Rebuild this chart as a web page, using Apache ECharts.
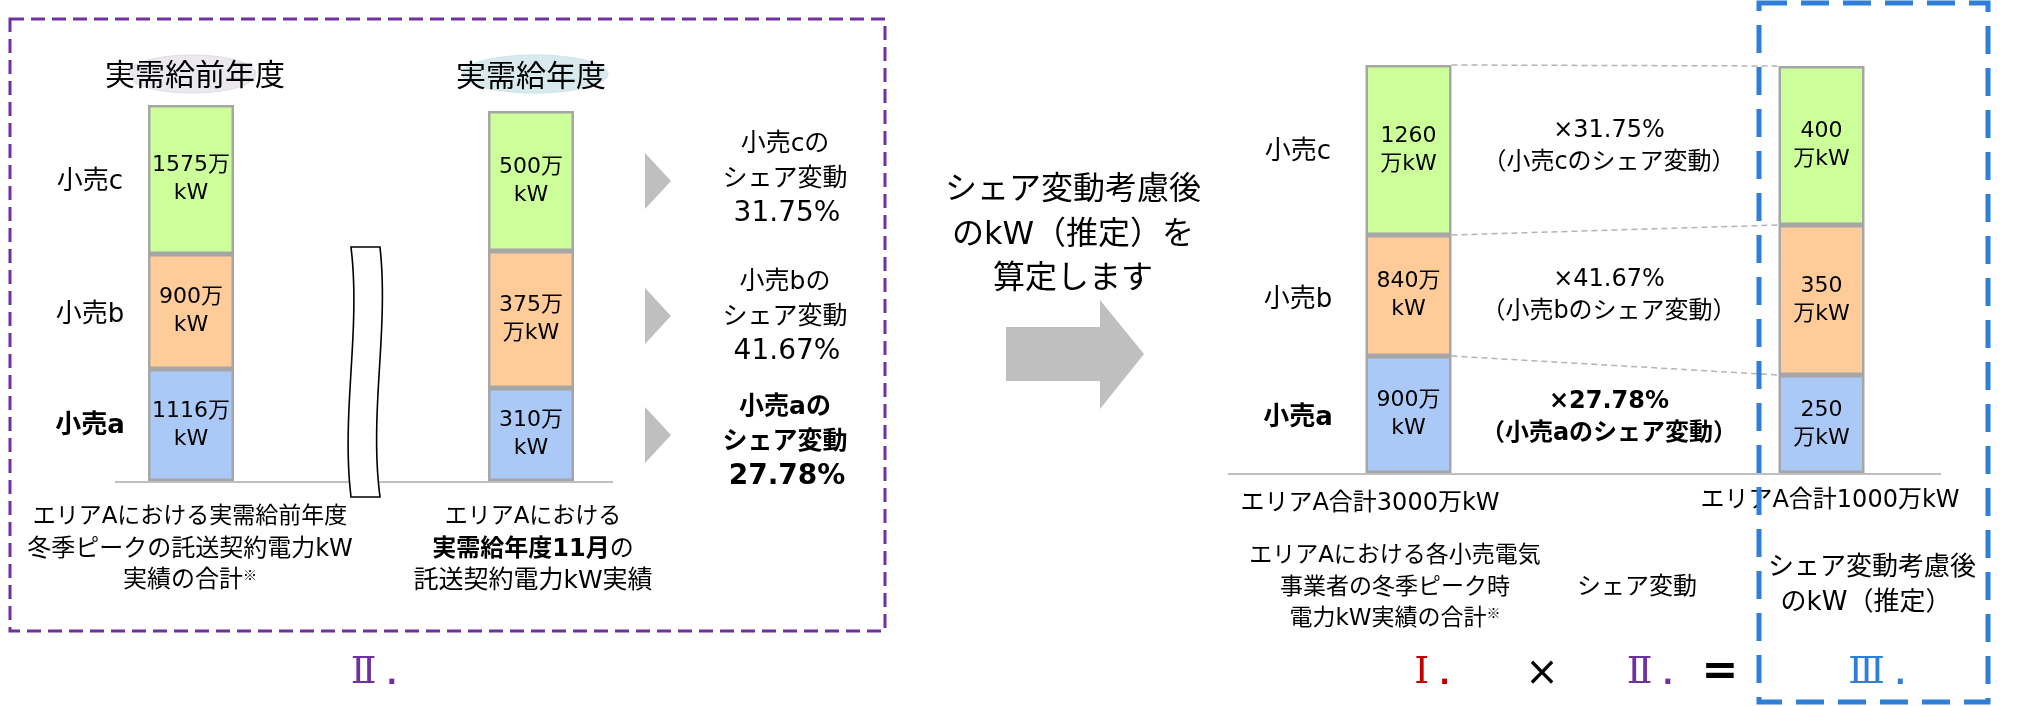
<!DOCTYPE html>
<html>
<head>
<meta charset="utf-8">
<script src="https://cdn.jsdelivr.net/npm/echarts@6.0.0/dist/echarts.min.js"></script>
<style>
  html, body { margin: 0; padding: 0; background: #fff; }
  #chart { width: 2028px; height: 706px; }
</style>
</head>
<body>
<div id="chart"></div>
<script>
// segment order: 小売a (bottom), 小売b, 小売c (top)
const retailers = ['小売a', '小売b', '小売c'];
const shareRates = ['27.78%', '41.67%', '31.75%'];

// left pair: 実需給前年度 / 実需給年度 (schematic segment heights as drawn)
const leftBars = ['実需給前年度', '実需給年度'];
const prevHeights = [112, 115, 149];
const curHeights = [93, 137, 140];
const prevLabels = ['1116万\nkW', '900万\nkW', '1575万\nkW'];
const curLabels = ['310万\nkW', '375万\n万kW', '500万\nkW'];

// right pair: エリアA合計 / シェア変動考慮後
const rightBars = ['エリアA合計3000万kW', 'エリアA合計1000万kW'];
const areaHeights = [117, 121, 170];
const afterHeights = [98, 150, 159];
const areaLabels = ['900万\nkW', '840万\nkW', '1260\n万kW'];
const afterLabels = ['250\n万kW', '350\n万kW', '400\n万kW'];

const colors = ['#abc9f6', '#ffcc99', '#ccff99'];
const FF = "'DejaVu Sans', 'Noto Sans CJK JP', sans-serif";
const JP = "'Noto Sans CJK JP', sans-serif";
const RN = "'DejaVu Serif', 'Noto Sans CJK JP', serif";

const chart = echarts.init(document.getElementById('chart'));

function barSeries(gi, stack, heightsA, heightsB, labelsA, labelsB) {
  return retailers.map((r, i) => ({
    type: 'bar',
    name: r,
    xAxisIndex: gi,
    yAxisIndex: gi,
    stack: stack,
    barWidth: 86,
    data: [heightsA[i], heightsB[i]],
    itemStyle: { color: colors[i], borderColor: '#a6a6a6', borderWidth: 2.5 },
    label: {
      show: true,
      position: 'inside',
      formatter: p => (p.dataIndex === 0 ? labelsA : labelsB)[i],
      color: '#000',
      fontSize: 22,
      lineHeight: 28,
      fontFamily: FF
    },
    emphasis: { disabled: true },
    silent: true
  }));
}

chart.setOption({
  animation: false,
  grid: [
    { left: 21, width: 680, top: 0, height: 481 },
    { left: 1202, width: 866, top: 0, height: 473 }
  ],
  xAxis: [
    { type: 'category', gridIndex: 0, data: leftBars, show: false },
    { type: 'category', gridIndex: 1, data: rightBars, show: false }
  ],
  yAxis: [
    { type: 'value', gridIndex: 0, min: 0, max: 481, show: false },
    { type: 'value', gridIndex: 1, min: 0, max: 473, show: false }
  ],
  series: [
    ...barSeries(0, 'left', prevHeights, curHeights, prevLabels, curLabels),
    ...barSeries(1, 'right', areaHeights, afterHeights, areaLabels, afterLabels)
  ]
});

function t(x, y, text, size, extra) {
  return {
    type: 'text', x: x, y: y, z: 10, silent: true,
    style: Object.assign({
      text: text, fill: '#000', fontSize: size, fontFamily: FF,
      fontWeight: 'normal', align: 'center', verticalAlign: 'middle'
    }, extra || {})
  };
}
function line(x1, y1, x2, y2, color, w, dash) {
  return {
    type: 'line', z: 5, silent: true,
    shape: { x1: x1, y1: y1, x2: x2, y2: y2 },
    style: { stroke: color, lineWidth: w, lineDash: dash || null }
  };
}
function tri(x, cy) {
  return {
    type: 'polygon', z: 5, silent: true,
    shape: { points: [[x, cy - 28], [x + 26, cy], [x, cy + 28]] },
    style: { fill: '#bfbfbf' }
  };
}
// points along a cubic curve, for the break mark outline
function cubic(p0, p1, p2, p3, n) {
  const pts = [];
  for (let k = 0; k <= n; k++) {
    const s = k / n, u = 1 - s;
    pts.push([
      u * u * u * p0[0] + 3 * u * u * s * p1[0] + 3 * u * s * s * p2[0] + s * s * s * p3[0],
      u * u * u * p0[1] + 3 * u * u * s * p1[1] + 3 * u * s * s * p2[1] + s * s * s * p3[1]
    ]);
  }
  return pts;
}
// roman numeral with separate period, like "Ⅱ."
function numeral(cx, text, color) {
  return {
    type: 'text', x: cx, y: 673, z: 10, silent: true,
    style: {
      text: '{n|' + text + '}{d|.}', align: 'center', verticalAlign: 'middle',
      rich: {
        n: { fontSize: 38, fontFamily: RN, fill: color },
        d: { fontSize: 28, fontFamily: FF, fontWeight: 'bold', fill: color, padding: [8, 0, 0, 10] }
      }
    }
  };
}

const g = [];

// title ellipses + titles
g.push({ type: 'ellipse', z: 1, silent: true, shape: { cx: 192, cy: 74, rx: 64, ry: 19 },
  style: { fill: '#ebe8ee', stroke: '#dedbe3', lineWidth: 1 } });
g.push({ type: 'ellipse', z: 1, silent: true, shape: { cx: 535, cy: 74, rx: 73, ry: 19 },
  style: { fill: '#d9eaee', stroke: '#cde2e7', lineWidth: 1 } });
g.push(t(195, 74, leftBars[0], 30, { fontFamily: JP }));
g.push(t(531, 75, leftBars[1], 30, { fontFamily: JP }));

// left-side retailer labels
const leftLabelY = [426, 315, 182];
retailers.forEach((r, i) => g.push(t(90, leftLabelY[i], r, 26, { fontWeight: i === 0 ? 'bold' : 'normal' })));

// arrowheads + share text
const triY = [435, 316, 181];
const shareY = [442, 317, 179];
retailers.forEach((r, i) => {
  g.push(tri(645, triY[i]));
  const bold = i === 0 ? 'bold' : 'normal';
  g.push(t(785, shareY[i] - 35, r + 'の', 25, { fontWeight: bold }));
  g.push(t(785, shareY[i], 'シェア変動', 25, { fontWeight: bold }));
  g.push(t(787, shareY[i] + 35, shareRates[i], 28, { fontWeight: bold }));
});

// break mark
const breakPts = [[351, 247], [380, 247]]
  .concat(cubic([380, 247], [389, 330], [369, 413], [380, 497], 30))
  .concat([[351, 497]])
  .concat(cubic([351, 497], [341, 413], [361, 330], [351, 247], 30));
g.push({ type: 'polygon', z: 6, silent: true, shape: { points: breakPts },
  style: { fill: '#fff', stroke: '#000', lineWidth: 1.6 } });

// baselines
g.push(line(115, 482, 613, 482, '#bfbfbf', 2));
g.push(line(1228, 474, 1941, 474, '#bfbfbf', 2));

// left bottom notes
g.push(t(190, 517, 'エリアAにおける実需給前年度', 23));
g.push(t(190, 550, '冬季ピークの託送契約電力kW', 24));
g.push({ type: 'text', x: 190, y: 581, z: 10, silent: true, style: {
  text: '{n|実績の合計}{s|※}', align: 'center', verticalAlign: 'middle',
  rich: { n: { fontSize: 24, fontFamily: FF, fill: '#000' },
          s: { fontSize: 14, fontFamily: JP, fill: '#000', verticalAlign: 'top', padding: [0, 0, 12, 0] } } } });
g.push(t(533, 517, 'エリアAにおける', 23));
g.push({ type: 'text', x: 533, y: 550, z: 10, silent: true, style: {
  text: '{b|実需給年度11月}{n|の}', align: 'center', verticalAlign: 'middle',
  rich: { b: { fontSize: 24, fontFamily: FF, fontWeight: 'bold', fill: '#000' },
          n: { fontSize: 24, fontFamily: FF, fill: '#000' } } } });
g.push(t(533, 581, '託送契約電力kW実績', 25));

// purple dashed box + II.
g.push({ type: 'rect', z: 20, silent: true, shape: { x: 10, y: 19, width: 875, height: 612 },
  style: { fill: 'none', stroke: '#7030a0', lineWidth: 3, lineDash: [14, 7] } });
g.push(numeral(374, 'Ⅱ', '#7030a0'));

// middle text + big arrow
g.push(t(1073, 191, 'シェア変動考慮後', 32));
g.push(t(1073, 236, 'のkW（推定）を', 32));
g.push(t(1073, 280, '算定します', 32));
g.push({ type: 'polygon', z: 5, silent: true,
  shape: { points: [[1006, 327], [1100, 327], [1100, 300], [1144, 354], [1100, 409], [1100, 381], [1006, 381]] },
  style: { fill: '#bfbfbf' } });

// right-side retailer labels + multipliers
const rightLabelY = [418, 300, 152];
const multY = [402, 280, 131];
retailers.forEach((r, i) => {
  const bold = i === 0 ? 'bold' : 'normal';
  g.push(t(1298, rightLabelY[i], r, 26, { fontWeight: bold }));
  g.push(t(1609, multY[i], '×' + shareRates[i], 24, { fontWeight: bold }));
  g.push(t(1609, multY[i] + 32, '（' + r + 'のシェア変動）', 24, { fontWeight: bold }));
});

// totals and notes
g.push(t(1370, 504, rightBars[0], 24));
g.push(t(1830, 501, rightBars[1], 24));
g.push(t(1395, 556, 'エリアAにおける各小売電気', 23));
g.push(t(1395, 588, '事業者の冬季ピーク時', 23));
g.push({ type: 'text', x: 1395, y: 619, z: 10, silent: true, style: {
  text: '{n|電力kW実績の合計}{s|※}', align: 'center', verticalAlign: 'middle',
  rich: { n: { fontSize: 23, fontFamily: FF, fill: '#000' },
          s: { fontSize: 14, fontFamily: JP, fill: '#000', verticalAlign: 'top', padding: [0, 0, 12, 0] } } } });
g.push(t(1637, 588, 'シェア変動', 24));
g.push(t(1872, 568, 'シェア変動考慮後', 26));
g.push(t(1866, 603, 'のkW（推定）', 26));

// formula row
g.push(numeral(1432, 'Ⅰ', '#c00000'));
g.push(t(1542, 675, '×', 40, { fontFamily: FF }));
g.push(numeral(1650, 'Ⅱ', '#7030a0'));
g.push(t(1720, 673, '=', 44, { fontFamily: FF, fontWeight: 'bold' }));
g.push(numeral(1877, 'Ⅲ', '#2f7ed8'));

// blue dashed box
g.push({ type: 'rect', z: 30, silent: true, shape: { x: 1759, y: 3, width: 229, height: 699 },
  style: { fill: 'none', stroke: '#2f7ed8', lineWidth: 5, lineDash: [28, 14] } });

// dashed connectors between the right bars, from the stacked data
let cumA = 0, cumB = 0;
retailers.forEach((r, i) => {
  cumA += areaHeights[i];
  cumB += afterHeights[i];
  const p1 = chart.convertToPixel({ xAxisIndex: 1, yAxisIndex: 1 }, [0, cumA]);
  const p2 = chart.convertToPixel({ xAxisIndex: 1, yAxisIndex: 1 }, [1, cumB]);
  g.push(line(p1[0] + 43, p1[1], p2[0] - 43, p2[1], '#b4b4b4', 1.5, [6, 4]));
});

chart.setOption({ graphic: { elements: g } });
</script>
</body>
</html>
